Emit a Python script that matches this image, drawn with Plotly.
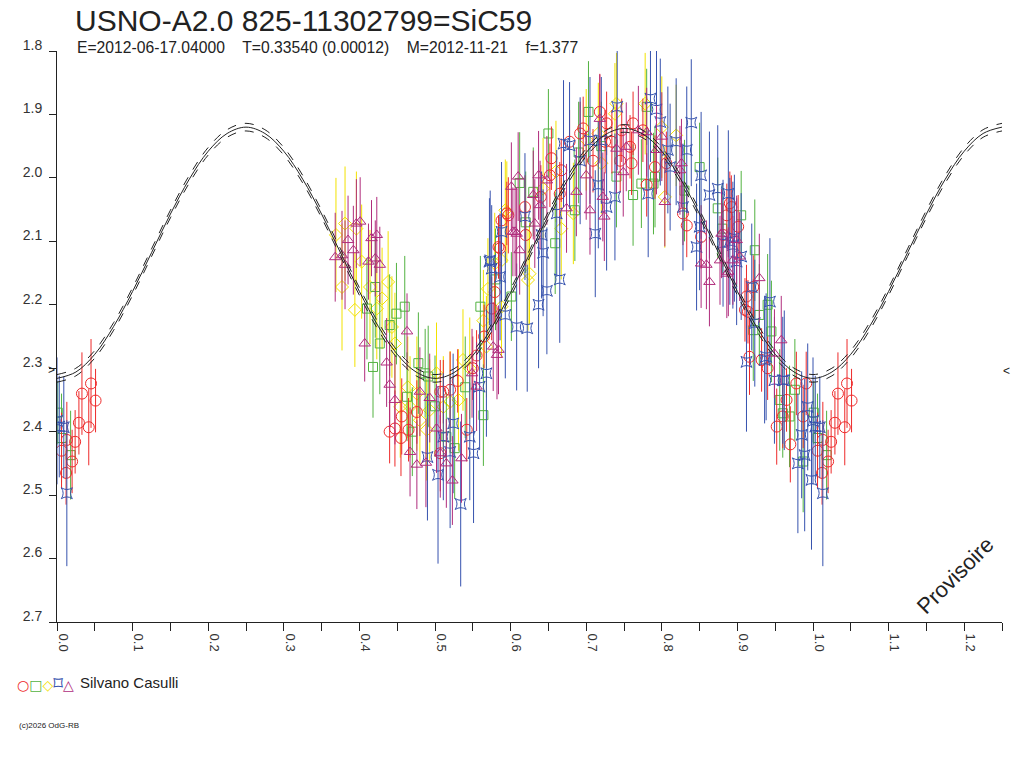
import numpy as np
import plotly.graph_objects as go

# ---- model curve (phase, magnitude)
curve_phase = [0.000, 0.025, 0.050, 0.075, 0.100, 0.125, 0.150, 0.175, 0.200, 0.225,
               0.250, 0.275, 0.300, 0.325, 0.350, 0.375, 0.400, 0.425, 0.450, 0.475,
               0.500, 0.525, 0.550, 0.575, 0.600, 0.625, 0.650, 0.675, 0.700, 0.725,
               0.750, 0.775, 0.800, 0.825, 0.850, 0.875, 0.900, 0.925, 0.950, 0.975,
               1.000, 1.025, 1.050, 1.075, 1.100, 1.125, 1.150, 1.175, 1.200, 1.225, 1.250]
curve_mag = [2.316, 2.306, 2.278, 2.234, 2.179, 2.118, 2.057, 2.002, 1.958, 1.930,
             1.920, 1.930, 1.958, 2.002, 2.057, 2.118, 2.179, 2.234, 2.278, 2.306,
             2.316, 2.307, 2.280, 2.236, 2.181, 2.120, 2.059, 2.004, 1.960, 1.932,
             1.922, 1.931, 1.958, 2.002, 2.057, 2.118, 2.179, 2.234, 2.278, 2.306,
             2.316, 2.306, 2.278, 2.234, 2.179, 2.118, 2.057, 2.002, 1.958, 1.930, 1.920]
curve_sigma = 0.006

# ---- observations (phase, mag, error) per symbol
red_phase = [0.006, 0.012, 0.013, 0.020, 0.024, 0.029, 0.033, 0.042, 0.045, 0.051,
             0.440, 0.447, 0.455, 0.456, 0.465, 0.476, 0.507, 0.507, 0.511, 0.520, 0.530, 0.542,
             0.550, 0.555, 0.565, 0.575, 0.579, 0.584, 0.586, 0.588, 0.595, 0.597, 0.619, 0.620, 0.640,
             0.652, 0.654, 0.665, 0.667, 0.678, 0.692, 0.696, 0.709, 0.718, 0.725, 0.727, 0.734,
             0.745, 0.747, 0.758, 0.760, 0.762, 0.775, 0.780, 0.791, 0.806, 0.828, 0.833, 0.852,
             0.881, 0.886, 0.890, 0.892, 0.901, 0.910, 0.912, 0.914, 0.916, 0.921, 0.932, 0.940,
             0.952, 0.960, 0.965, 0.970, 0.978, 0.987, 0.991]
red_mag = [2.430, 2.465, 2.413, 2.447, 2.416, 2.386, 2.340, 2.393, 2.324, 2.351,
           2.400, 2.395, 2.410, 2.376, 2.397, 2.369, 2.434, 2.337, 2.337, 2.334, 2.320, 2.397,
           2.300, 2.280, 2.250, 2.206, 2.180, 2.109, 2.111, 2.067, 2.056, 2.059, 2.046, 2.090, 2.030,
           1.996, 1.969, 2.025, 1.988, 1.943, 1.930, 1.922, 1.973, 1.896, 1.943, 1.914, 1.943,
           1.973, 1.925, 1.951, 1.977, 1.914, 1.925, 2.011, 1.983, 1.977, 2.056, 2.075, 2.093,
           2.090, 2.059, 2.040, 2.046, 2.077, 2.208, 2.187, 2.211, 2.282, 2.172, 2.287, 2.300,
           2.392, 2.376, 2.350, 2.420, 2.324, 2.376, 2.324]
red_err = [0.06, 0.05, 0.06, 0.05, 0.05, 0.05, 0.065, 0.06, 0.07, 0.05,
           0.05, 0.06, 0.06, 0.06, 0.05, 0.05, 0.06, 0.05, 0.05, 0.06, 0.05, 0.05,
           0.05, 0.04, 0.05, 0.05, 0.05, 0.05, 0.05, 0.05, 0.05, 0.06, 0.05, 0.05, 0.05,
           0.05, 0.05, 0.05, 0.05, 0.05, 0.05, 0.05, 0.05, 0.06, 0.05, 0.05, 0.05,
           0.05, 0.05, 0.05, 0.05, 0.05, 0.05, 0.05, 0.05, 0.05, 0.05, 0.05, 0.05,
           0.05, 0.05, 0.05, 0.05, 0.05, 0.05, 0.05, 0.05, 0.06, 0.05, 0.05, 0.05,
           0.06, 0.05, 0.05, 0.06, 0.05, 0.05, 0.05]

green_phase = [0.001, 0.006, 0.018,
               0.410, 0.418, 0.421, 0.427, 0.440, 0.449, 0.460, 0.463, 0.470, 0.478, 0.487,
               0.491, 0.500, 0.515, 0.526, 0.540, 0.560, 0.564, 0.580,
               0.601, 0.612, 0.620, 0.630, 0.650, 0.659, 0.685, 0.690, 0.703, 0.720, 0.740,
               0.762, 0.773, 0.780, 0.789, 0.791, 0.830, 0.850, 0.874, 0.880,
               0.905, 0.921, 0.923, 0.929, 0.940, 0.945, 0.956, 0.960, 0.969, 0.976, 0.987]
green_mag = [2.370, 2.410, 2.437,
             2.206, 2.298, 2.172, 2.261, 2.232, 2.214, 2.203, 2.345, 2.400, 2.292, 2.308,
             2.313, 2.360, 2.408, 2.426, 2.330, 2.203, 2.374, 2.160,
             2.187, 2.008, 2.070, 2.022, 1.930, 2.103, 2.051, 1.960, 1.896, 1.950, 1.998,
             2.027, 2.009, 1.888, 2.009, 1.998, 2.020, 1.983, 2.048, 2.080,
             2.059, 2.240, 2.114, 2.216, 2.200, 2.242, 2.350, 2.371, 2.376, 2.334, 2.447]
green_err = [0.05, 0.07, 0.07,
             0.08, 0.08, 0.08, 0.08, 0.08, 0.08, 0.08, 0.07, 0.07, 0.08, 0.07,
             0.08, 0.08, 0.07, 0.08, 0.08, 0.08, 0.08, 0.08,
             0.07, 0.08, 0.08, 0.07, 0.07, 0.08, 0.08, 0.08, 0.08, 0.07, 0.08,
             0.08, 0.07, 0.06, 0.08, 0.08, 0.08, 0.07, 0.08, 0.07,
             0.07, 0.08, 0.08, 0.08, 0.08, 0.08, 0.08, 0.07, 0.08, 0.08, 0.08]

yellow_phase = [0.369, 0.377, 0.381, 0.394, 0.396, 0.403, 0.414, 0.423, 0.430, 0.438, 0.443, 0.447,
                0.454, 0.464, 0.467, 0.476, 0.480, 0.489, 0.493, 0.502, 0.511, 0.520, 0.531, 0.537, 0.546,
                0.564, 0.568, 0.570, 0.579, 0.588, 0.588, 0.593, 0.595, 0.623, 0.625, 0.643, 0.660,
                0.667, 0.683, 0.700, 0.716, 0.720, 0.738, 0.740, 0.778, 0.800, 0.804, 0.819]
yellow_mag = [2.090, 2.172, 2.072, 2.208, 2.080, 2.132, 2.172, 2.206, 2.190, 2.164, 2.235, 2.261,
              2.361, 2.330, 2.361, 2.340, 2.382, 2.397, 2.366, 2.308, 2.361, 2.353, 2.350, 2.287, 2.300,
              2.225, 2.266, 2.175, 2.135, 2.130, 2.203, 2.051, 2.054, 2.161, 2.151, 2.017, 1.990,
              2.080, 2.056, 1.940, 1.930, 1.977, 1.899, 1.883, 1.883, 1.920, 2.030, 1.933]
yellow_err = [0.09, 0.10, 0.09, 0.09, 0.09, 0.09, 0.09, 0.08, 0.08, 0.08, 0.08, 0.08,
              0.08, 0.08, 0.08, 0.09, 0.07, 0.08, 0.08, 0.08, 0.08, 0.08, 0.08, 0.08, 0.08,
              0.08, 0.08, 0.08, 0.08, 0.08, 0.08, 0.08, 0.08, 0.08, 0.08, 0.08, 0.08,
              0.08, 0.08, 0.08, 0.08, 0.08, 0.08, 0.08, 0.08, 0.08, 0.08, 0.08]

blue_phase = [0.000, 0.003, 0.009, 0.013,
              0.490, 0.504, 0.511, 0.520, 0.524, 0.534, 0.546, 0.551, 0.559, 0.568,
              0.572, 0.573, 0.575, 0.586, 0.588, 0.593, 0.608, 0.619, 0.622, 0.637, 0.641, 0.643,
              0.648, 0.661, 0.665, 0.670, 0.678, 0.692, 0.705, 0.712, 0.716, 0.720, 0.727, 0.738,
              0.741, 0.782, 0.785, 0.793, 0.798, 0.808, 0.811, 0.819, 0.828, 0.833, 0.839, 0.846,
              0.850, 0.852, 0.863, 0.874, 0.881, 0.888, 0.890, 0.894, 0.896, 0.899, 0.905,
              0.912, 0.919, 0.923, 0.936, 0.938, 0.943, 0.949, 0.960, 0.962, 0.980, 0.985, 0.989,
              0.993, 0.998]
blue_mag = [2.383, 2.392, 2.393, 2.497,
            2.440, 2.468, 2.408, 2.432, 2.387, 2.514, 2.408, 2.434, 2.329, 2.308,
            2.132, 2.130, 2.143, 2.156, 2.085, 2.216, 2.235, 2.061, 2.237, 2.200, 2.090, 2.118,
            2.178, 2.056, 2.160, 1.946, 1.949, 1.973, 1.941, 2.088, 2.011, 1.941, 2.046, 2.030,
            1.888, 2.025, 1.875, 1.892, 1.912, 1.956, 1.983, 1.943, 2.046, 1.956, 1.913, 2.109,
            2.077, 1.996, 2.027, 2.017, 2.103, 2.025, 2.100, 2.106, 2.095, 2.132, 2.124,
            2.290, 2.172, 2.229, 2.287, 2.282, 2.195, 2.319, 2.319, 2.319, 2.450, 2.405, 2.437,
            2.361, 2.476]
blue_err = [0.10, 0.08, 0.08, 0.115,
            0.10, 0.14, 0.10, 0.12, 0.11, 0.13, 0.10, 0.11, 0.10, 0.10,
            0.10, 0.11, 0.10, 0.10, 0.11, 0.10, 0.10, 0.10, 0.10, 0.10, 0.10, 0.10,
            0.10, 0.10, 0.10, 0.10, 0.10, 0.10, 0.10, 0.10, 0.10, 0.10, 0.10, 0.10,
            0.10, 0.10, 0.10, 0.10, 0.10, 0.10, 0.10, 0.10, 0.10, 0.10, 0.10, 0.10,
            0.10, 0.10, 0.10, 0.10, 0.10, 0.10, 0.10, 0.10, 0.10, 0.10, 0.10,
            0.11, 0.10, 0.10, 0.10, 0.10, 0.10, 0.10, 0.10, 0.11, 0.11, 0.10, 0.12,
            0.10, 0.11]

purple_phase = [0.368, 0.377, 0.381, 0.385, 0.392, 0.396, 0.401, 0.407, 0.412, 0.416, 0.421,
                0.423, 0.427, 0.436, 0.440, 0.447, 0.463, 0.467, 0.476, 0.480, 0.488, 0.493,
                0.502, 0.507, 0.515, 0.523, 0.535, 0.549, 0.555, 0.577, 0.582, 0.584,
                0.601, 0.603, 0.606, 0.608, 0.610, 0.612, 0.630, 0.632, 0.637, 0.639, 0.648,
                0.674, 0.687, 0.700, 0.705, 0.718, 0.722, 0.724, 0.740, 0.749, 0.753, 0.769,
                0.780, 0.793, 0.800, 0.804, 0.824, 0.826, 0.852, 0.859, 0.863, 0.877, 0.879,
                0.886, 0.888, 0.894, 0.899, 0.903, 0.929, 0.949, 0.958]
purple_mag = [2.125, 2.122, 2.137, 2.098, 2.114, 2.072, 2.069, 2.261, 2.132, 2.095, 2.127,
              2.090, 2.137, 2.291, 2.326, 2.350, 2.242, 2.432, 2.452, 2.337, 2.449, 2.347,
              2.395, 2.434, 2.450, 2.477, 2.442, 2.308, 2.329, 2.266, 2.279, 2.271,
              2.014, 2.085, 2.085, 2.088, 1.998, 2.114, 2.027, 2.072, 1.996, 2.043, 2.004,
              2.048, 2.022, 1.996, 2.051, 1.907, 2.030, 2.061, 1.954, 1.991, 1.951, 1.925,
              1.928, 1.956, 1.935, 2.038, 1.988, 1.977, 2.135, 2.137, 2.164, 2.130, 2.088,
              2.151, 2.148, 2.130, 2.098, 2.124, 2.158, 2.277, 2.256]
purple_err = [0.07, 0.07, 0.07, 0.07, 0.07, 0.07, 0.07, 0.06, 0.06, 0.06, 0.06,
              0.06, 0.06, 0.07, 0.07, 0.07, 0.06, 0.07, 0.07, 0.07, 0.07, 0.07,
              0.07, 0.07, 0.07, 0.07, 0.07, 0.07, 0.07, 0.07, 0.07, 0.07,
              0.07, 0.07, 0.07, 0.07, 0.07, 0.07, 0.07, 0.07, 0.07, 0.07, 0.07,
              0.07, 0.07, 0.07, 0.07, 0.07, 0.07, 0.07, 0.07, 0.07, 0.07, 0.07,
              0.07, 0.07, 0.07, 0.07, 0.07, 0.07, 0.07, 0.07, 0.07, 0.07, 0.07,
              0.07, 0.07, 0.07, 0.07, 0.07, 0.07, 0.07, 0.07]

x_ticks = [0.0, 0.1, 0.2, 0.3, 0.4, 0.5, 0.6, 0.7, 0.8, 0.9, 1.0, 1.1, 1.2]
y_ticks = [1.8, 1.9, 2.0, 2.1, 2.2, 2.3, 2.4, 2.5, 2.6, 2.7]

title = "USNO-A2.0 825-11302799=SiC59"
subtitle = "E=2012-06-17.04000    T=0.33540 (0.00012)    M=2012-11-21    f=1.377"
observer = "Silvano Casulli"

FONT = "Liberation Sans, Arial, sans-serif"


def wrap(ph, mg, er):
    # phases just past 0 are repeated one cycle later
    ph, mg, er = np.array(ph), np.array(mg), np.array(er)
    m = ph <= 0.055
    return (np.concatenate([ph, ph[m] + 1]), np.concatenate([mg, mg[m]]),
            np.concatenate([er, er[m]]))


series = [
    (yellow_phase, yellow_mag, yellow_err, "#f2e200", "diamond-open", 10),
    (green_phase, green_mag, green_err, "#52b240", "square-open", 9),
    (red_phase, red_mag, red_err, "#ee2a2a", "circle-open", 11),
    (blue_phase, blue_mag, blue_err, "#3652ae", "star-square-open", 10),
    (purple_phase, purple_mag, purple_err, "#b02c7c", "triangle-up-open", 10),
]

fig = go.Figure()
for ph, mg, er, col, sym, sz in series:
    x, y, e = wrap(ph, mg, er)
    fig.add_trace(go.Scatter(
        x=x, y=y, mode="markers",
        marker=dict(symbol=sym, size=sz, color=col, line=dict(width=1, color=col)),
        error_y=dict(type="data", array=e, color=col, thickness=1, width=0),
        showlegend=False, hoverinfo="skip"))

cm = np.array(curve_mag)
for off, dash in [(-curve_sigma, "dash"), (curve_sigma, "dash"), (0, "solid")]:
    fig.add_trace(go.Scatter(
        x=curve_phase, y=cm + off, mode="lines",
        line=dict(color="#222222", width=1, dash=dash, shape="spline"),
        showlegend=False, hoverinfo="skip"))

fig.update_xaxes(range=[0, 1.25], tickvals=x_ticks, ticktext=["%.1f" % t for t in x_ticks],
                 tickangle=90, ticks="outside", ticklen=8, tickcolor="#222",
                 minor=dict(dtick=0.05, ticks="outside", ticklen=8, tickcolor="#222"),
                 showline=True, linecolor="#222", linewidth=1, showgrid=False, zeroline=False,
                 tickfont=dict(family=FONT, size=13, color="#333"), ticklabelshift=6)
fig.update_yaxes(range=[2.7, 1.8], tickvals=y_ticks, ticktext=["%.1f" % t for t in y_ticks],
                 ticks="outside", ticklen=7, tickcolor="#222",
                 showline=True, linecolor="#222", linewidth=1, showgrid=False, zeroline=False,
                 tickfont=dict(family=FONT, size=14, color="#333"),
                 ticklabelshift=6, ticklabelstandoff=4)

# page body adds an 8px margin, so the figure is shrunk and shifted by that much
OFF = 8
W, H = 1024 - OFF, 768 - OFF
L, R, T, B = 57 - OFF, 22, 51 - OFF, 146
pw, ph_ = W - L - R, H - T - B


def px(x):
    return (x - OFF - L) / pw


def py(y):
    return (H - B - (y - OFF)) / ph_


legend_syms = ('<span style="color:#ee2a2a">○</span><span style="color:#52b240">□</span>'
               '<span style="color:#f2e200">◇</span>'
               '<span style="color:#3652ae;font-size:19px">⌑</span>'
               '<span style="color:#b02c7c">△</span>')

annotations = [
    dict(x=px(74), y=py(20), text=title, font=dict(size=30, color="#222"), borderpad=0),
    dict(x=px(75), y=py(48), text=subtitle.replace(" ", "\u00a0"), font=dict(size=15.7, color="#222")),
    dict(x=px(15), y=py(683), text=legend_syms, font=dict(size=14, family="DejaVu Sans")),
    dict(x=px(78), y=py(682), text=observer, font=dict(size=15, color="#222")),
    dict(x=px(17), y=py(725), text="(c)2026 OdG-RB", font=dict(size=8, color="#222")),
    dict(x=px(1001), y=py(371), text="<", font=dict(size=12, color="#222")),
    dict(x=px(46), y=py(370), text=">", font=dict(size=12, color="#222")),
]
for a in annotations:
    a.update(xref="paper", yref="paper", xanchor="left", yanchor="middle", showarrow=False)
    a["font"].setdefault("family", FONT)

annotations.append(dict(x=px(955), y=py(575), xref="paper", yref="paper", text="Provisoire",
                        textangle=-45, showarrow=False, xanchor="center", yanchor="middle",
                        font=dict(family=FONT, size=22, color="#222")))

fig.update_layout(width=W, height=H, margin=dict(l=L, r=R, t=T, b=B),
                  plot_bgcolor="white", paper_bgcolor="white",
                  font=dict(family=FONT), annotations=annotations)

fig.write_html("out.html")
